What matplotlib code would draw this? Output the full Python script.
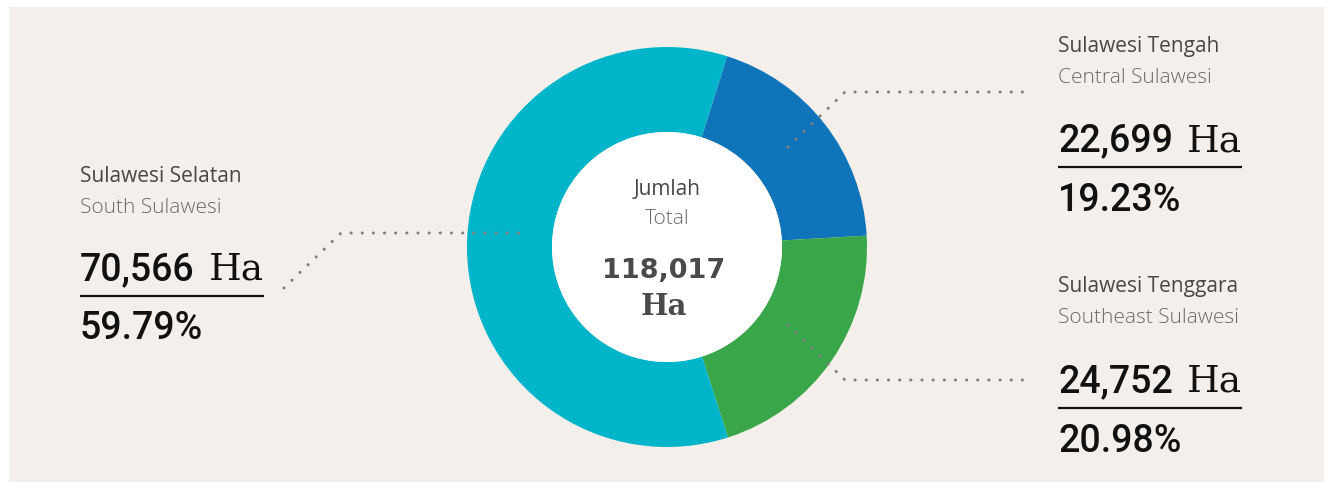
import matplotlib
matplotlib.use("Agg")
import matplotlib.pyplot as plt
from matplotlib.patches import Circle, Rectangle

# ---- data ----
regions_id = ["Sulawesi Tengah", "Sulawesi Tenggara", "Sulawesi Selatan"]
regions_en = ["Central Sulawesi", "Southeast Sulawesi", "South Sulawesi"]
areas = [22699, 24752, 70566]
area_labels = ["22,699", "24,752", "70,566"]
pct_labels = ["19.23%", "20.98%", "59.79%"]
total_label = "118,017"
colors = ["#0f74b9", "#38a649", "#00b4c9"]

W, H = 1332, 488
fig = plt.figure(figsize=(W / 100, H / 100), dpi=100)
fig.patch.set_facecolor("white")
ax = fig.add_axes([0, 0, 1, 1])
ax.set_axis_off()

def Y(y):
    return H - y

BG = "#f4efeb"
ax.add_patch(Rectangle((9, Y(482)), 1315, 475, facecolor=BG, edgecolor="none", zorder=0))

cx, cy = 667, 247
R_out, R_in = 200, 115
ax.pie(areas, colors=colors, startangle=72.5, counterclock=False,
       radius=R_out, center=(cx, Y(cy)),
       wedgeprops=dict(width=R_out - R_in, linewidth=0), frame=False)
ax.add_patch(Circle((cx, Y(cy)), R_in, facecolor="white", edgecolor="none", zorder=5))

ax.set_xlim(0, W)
ax.set_ylim(0, H)
ax.set_aspect("auto")

# leader lines
lead_kw = dict(color="#808080", lw=2.2, linestyle=(0, (0.05, 3.6)),
               dash_capstyle="round", solid_capstyle="round", zorder=6)
ax.plot([284, 341, 522], [Y(288), Y(233), Y(233)], **lead_kw)
ax.plot([788, 845, 1024], [Y(147), Y(92), Y(92)], **lead_kw)
ax.plot([788, 845, 1024], [Y(325), Y(380), Y(380)], **lead_kw)

LBL = "Open Sans"
NUM = "Roboto"
SER = "DejaVu Serif"

fig.canvas.draw()
renderer = fig.canvas.get_renderer()

def number_ha(x, yb, num, size, color, weight="medium"):
    t = ax.text(x, Y(yb), num, fontsize=size, color=color, family=NUM,
                weight=weight, ha="left", va="baseline", zorder=7)
    bb = t.get_window_extent(renderer)
    x1 = ax.transData.inverted().transform((bb.x1, bb.y0))[0]
    ax.text(x1 + 14, Y(yb), "Ha", fontsize=size, color=color,
            family=SER, ha="left", va="baseline", zorder=7)

blocks = [
    (1058, 52, 83, 151, 167, 211, 0),
    (1058, 292, 323, 392, 408, 452, 1),
    (80, 182, 213, 280, 296, 339, 2),
]
for x, y1, y2, y3, yl, y4, i in blocks:
    ax.text(x, Y(y1), regions_id[i], fontsize=15, color="#474747", family=LBL,
            ha="left", va="baseline", zorder=7)
    ax.text(x, Y(y2), regions_en[i], fontsize=15, color="#6a6a6a", family=LBL,
            weight="light", ha="left", va="baseline", zorder=7)
    number_ha(x, y3, area_labels[i], 27, "#111111")
    ax.plot([x, x + 184], [Y(yl), Y(yl)], color="#111111", lw=1.6,
            solid_capstyle="butt", zorder=7)
    ax.text(x, Y(y4), pct_labels[i], fontsize=27, color="#111111", family=NUM,
            weight="medium", ha="left", va="baseline", zorder=7)

# center
ax.text(cx, Y(195), "Jumlah", fontsize=15, color="#474747", family=LBL,
        ha="center", va="baseline", zorder=7)
ax.text(cx, Y(224), "Total", fontsize=15, color="#6a6a6a", family=LBL,
        weight="light", ha="center", va="baseline", zorder=7)
ax.text(664, Y(278), total_label, fontsize=19.5, color="#4a4a4a", family="DejaVu Sans",
        weight="bold", ha="center", va="baseline", zorder=7)
ax.text(664, Y(315), "Ha", fontsize=21, color="#4a4a4a", family=SER,
        weight="bold", ha="center", va="baseline", zorder=7)

fig.savefig("out.png", dpi=100, facecolor="white")
